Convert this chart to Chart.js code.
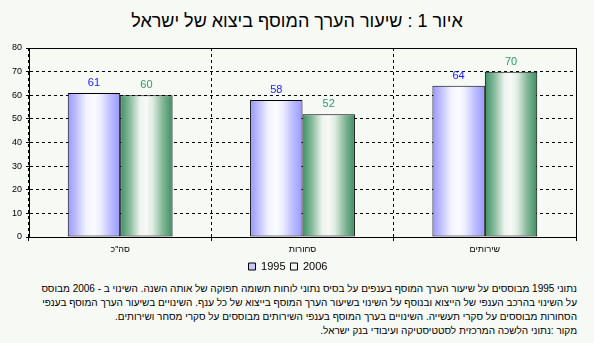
<!DOCTYPE html>
<html lang="he">
<head>
<meta charset="UTF-8">
<title>שיעור הערך המוסף ביצוא של ישראל</title>
<script src="https://cdn.jsdelivr.net/npm/chart.js"></script>
<style>
  html, body { margin:0; padding:0; }
  body { width:594px; height:343px; background:#f7f9f5; position:relative; overflow:hidden; font-family: Arial, "Liberation Sans", sans-serif; color:#000; }
  #title { position:absolute; top:11px; left:0; width:594px; text-align:center; font-size:18px; direction:rtl; }
  #wrap { position:absolute; left:0; top:0; width:594px; height:282px; }
  #notes { position:absolute; right:17px; top:282px; direction:rtl; text-align:right; font-size:10px; line-height:14px; white-space:nowrap; }
</style>
</head>
<body>
<div id="title">איור 1 : שיעור הערך המוסף ביצוא של ישראל</div>
<div id="wrap"><canvas id="chart" width="594" height="282"></canvas></div>
<div id="notes">
  <div>נתוני 1995 מבוססים על שיעור הערך המוסף בענפים על בסיס נתוני לוחות תשומה תפוקה של אותה השנה. השינוי ב - 2006 מבוסס</div>
  <div>על השינוי בהרכב הענפי של הייצוא ובנוסף על השינוי בשיעור הערך המוסף בייצוא של כל ענף. השינויים בשיעור הערך המוסף בענפי</div>
  <div>הסחורות מבוססים על סקרי תעשייה. השינויים בערך המוסף בענפי השירותים מבוססים על סקרי מסחר ושירותים.</div>
  <div>מקור :נתוני הלשכה המרכזית לסטטיסטיקה ועיבודי בנק ישראל.</div>
</div>
<script>
const categories = ['סה"כ', 'סחורות', 'שירותים'];
const values1995 = [61, 58, 64];
const values2006 = [60, 52, 70];
const yTicks = [0, 10, 20, 30, 40, 50, 60, 70, 80];

// horizontal gradient across each bar: coloured edges, light middle
function barGradient(ctx, el, stops) {
  const left = el.x - el.width / 2, right = el.x + el.width / 2;
  const g = ctx.createLinearGradient(left, 0, right, 0);
  stops.forEach(s => g.addColorStop(s[0], s[1]));
  return g;
}
const blueStops = [[0,'#9797ff'],[0.18,'#c4c4ff'],[0.35,'#f2f2ff'],[0.5,'#fafbff'],[0.62,'#eeeeff'],[0.8,'#c0c0ff'],[1,'#9898ff']];
const greenStops = [[0,'#3c8f62'],[0.18,'#86b99c'],[0.38,'#eef4ef'],[0.5,'#f7f9f6'],[0.62,'#dfebe3'],[0.82,'#7fb494'],[1,'#3c8f62']];

// each bar has its own options object (scriptable colour), so a gradient can be set per bar
const gradientPlugin = {
  id: 'gradients',
  beforeDatasetDraw(chart, args) {
    const stops = args.index === 0 ? blueStops : greenStops;
    args.meta.data.forEach(el => {
      el.options.backgroundColor = barGradient(chart.ctx, el, stops);
    });
  }
};

// value labels above the bars, top/right frame
const labelPlugin = {
  id: 'labels',
  afterDatasetsDraw(chart) {
    const ctx = chart.ctx;
    ctx.save();
    ctx.font = '11px Arial';
    ctx.textAlign = 'center';
    ctx.textBaseline = 'middle';
    chart.data.datasets.forEach((ds, i) => {
      ctx.fillStyle = i === 0 ? '#1a1aff' : '#2f9a66';
      chart.getDatasetMeta(i).data.forEach((el, j) => {
        ctx.fillText(ds.data[j], el.x, el.y - 10);
      });
    });
    const a = chart.chartArea;
    ctx.strokeStyle = '#000';
    ctx.lineWidth = 1;
    ctx.beginPath();
    ctx.moveTo(Math.round(a.left) + 0.5, Math.round(a.top) + 0.5);
    ctx.lineTo(Math.round(a.right) + 0.5, Math.round(a.top) + 0.5);
    ctx.lineTo(Math.round(a.right) + 0.5, Math.round(a.bottom) + 0.5);
    ctx.stroke();
    ctx.restore();
  }
};

new Chart(document.getElementById('chart'), {
  type: 'bar',
  data: {
    labels: categories,
    datasets: [
      { label: '1995', data: values1995, backgroundColor: () => '#c4c4ff', borderColor: '#000', borderWidth: 1, borderSkipped: false },
      { label: '2006', data: values2006, backgroundColor: () => '#eef4ef', borderColor: '#000', borderWidth: 1, borderSkipped: false }
    ]
  },
  options: {
    responsive: false,
    animation: false,
    layout: { padding: { top: 48, right: 18, left: 0, bottom: 0 } },
    datasets: { bar: { categoryPercentage: 0.575, barPercentage: 1 } },
    plugins: {
      tooltip: { enabled: false },
      legend: {
        position: 'bottom',
        labels: {
          boxWidth: 7, boxHeight: 7, padding: 5, color: '#000',
          font: { family: 'Arial', size: 11 },
          generateLabels(chart) {
            return chart.data.datasets.map((ds, i) => ({
              text: ds.label,
              fillStyle: i === 0 ? '#c8c8ff' : '#f4f6f2',
              strokeStyle: '#000', lineWidth: 1, datasetIndex: i
            }));
          }
        }
      }
    },
    scales: {
      x: {
        offset: true,
        grid: { display: true, offset: true, color: '#000', tickLength: 4, drawOnChartArea: true },
        border: { display: true, color: '#000', dash: [3, 3] },
        ticks: { color: '#000', font: { family: 'Arial', size: 9 }, padding: 3 },
        afterFit(scale) { scale.height = 19; }
      },
      y: {
        min: 0, max: 80,
        afterBuildTicks(scale) { scale.ticks = yTicks.map(v => ({ value: v })); },
        grid: { color: '#000', tickLength: 3 },
        border: { display: true, color: '#000', dash: [3, 3] },
        ticks: { color: '#000', font: { family: 'Arial', size: 9 }, padding: 4 },
        afterFit(scale) { scale.width = 29; }
      }
    }
  },
  plugins: [gradientPlugin, labelPlugin]
});
</script>
</body>
</html>
